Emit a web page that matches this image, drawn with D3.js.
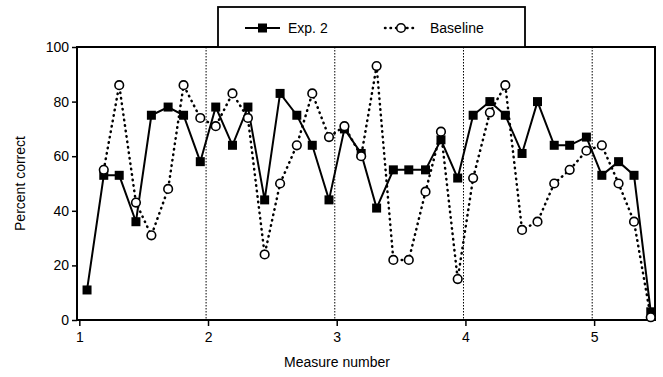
<!DOCTYPE html>
<html>
<head>
<meta charset="utf-8">
<script src="https://cdn.jsdelivr.net/npm/d3@7"></script>
<style>
  body { margin: 0; background: #fff; }
  svg { font-family: "Liberation Sans", Arial, sans-serif; }
</style>
</head>
<body>
<script>
// measure positions of each trial (8 per measure, last measure has 4)
var trialX = [1.06, 1.19, 1.31, 1.44, 1.56, 1.69, 1.81, 1.94,
              2.06, 2.19, 2.31, 2.44, 2.56, 2.69, 2.81, 2.94,
              3.06, 3.19, 3.31, 3.44, 3.56, 3.69, 3.81, 3.94,
              4.06, 4.19, 4.31, 4.44, 4.56, 4.69, 4.81, 4.94,
              5.06, 5.19, 5.31, 5.44];

var exp2 = [11, 53, 53, 36, 75, 78, 75, 58,
            78, 64, 78, 44, 83, 75, 64, 44,
            70, 61, 41, 55, 55, 55, 66, 52,
            75, 80, 75, 61, 80, 64, 64, 67,
            53, 58, 53, 3];

// baseline has no value for the first trial
var baseline = [null, 55, 86, 43, 31, 48, 86, 74,
                71, 83, 74, 24, 50, 64, 83, 67,
                71, 60, 93, 22, 22, 47, 69, 15,
                52, 76, 86, 33, 36, 50, 55, 62,
                64, 50, 36, 1];

var xTicks = [1, 2, 3, 4, 5];
var yTicks = [0, 20, 40, 60, 80, 100];
var dividers = [1.985, 2.985, 3.985, 4.985];

var width = 663;
var height = 377;
var padLeft = 77, padRight = 655, padTop = 47, padBottom = 320;

var svg = d3.select("body").append("svg")
  .attr("width", width)
  .attr("height", height);

var xScale = d3.scaleLinear()
  .domain([0.982, 5.473])
  .range([padLeft, padRight]);

var yScale = d3.scaleLinear()
  .domain([0, 100])
  .range([padBottom, padTop]);

// dotted measure dividers
svg.selectAll(".divider")
  .data(dividers)
  .enter()
  .append("line")
  .attr("class", "divider")
  .attr("x1", function(d) { return xScale(d); })
  .attr("x2", function(d) { return xScale(d); })
  .attr("y1", padTop)
  .attr("y2", padBottom)
  .attr("stroke", "#000")
  .attr("stroke-width", 1)
  .attr("stroke-dasharray", "1.5,1.5");

// axes
var xAxis = d3.axisBottom(xScale)
  .tickValues(xTicks)
  .tickFormat(d3.format("d"))
  .tickSize(6)
  .tickPadding(6);

var yAxis = d3.axisLeft(yScale)
  .tickValues(yTicks)
  .tickSize(5)
  .tickPadding(3);

var gx = svg.append("g")
  .attr("transform", `translate(0, ${padBottom})`)
  .call(xAxis);

var gy = svg.append("g")
  .attr("transform", `translate(${padLeft}, 0)`)
  .call(yAxis);

[gx, gy].forEach(function(g) {
  g.select(".domain").remove();
  g.selectAll(".tick line").attr("stroke", "#000").attr("stroke-width", 1.5);
  g.selectAll(".tick text")
    .attr("fill", "#000")
    .style("font-size", "14px");
});

// frame
svg.append("rect")
  .attr("x", padLeft)
  .attr("y", padTop)
  .attr("width", padRight - padLeft)
  .attr("height", padBottom - padTop)
  .attr("fill", "none")
  .attr("stroke", "#000")
  .attr("stroke-width", 2);

// baseline series
var basePts = trialX.map(function(x, i) { return {x: x, y: baseline[i]}; })
  .filter(function(d) { return d.y != null; });

var line = d3.line()
  .x(function(d) { return xScale(d.x); })
  .y(function(d) { return yScale(d.y); });

svg.append("path")
  .datum(basePts)
  .attr("d", line)
  .attr("fill", "none")
  .attr("stroke", "#000")
  .attr("stroke-width", 2.5)
  .attr("stroke-linecap", "round")
  .attr("stroke-dasharray", "0.5,5");

// exp 2 series
var expPts = trialX.map(function(x, i) { return {x: x, y: exp2[i]}; });

svg.append("path")
  .datum(expPts)
  .attr("d", line)
  .attr("fill", "none")
  .attr("stroke", "#000")
  .attr("stroke-width", 2);

svg.selectAll(".sq")
  .data(expPts)
  .enter()
  .append("rect")
  .attr("class", "sq")
  .attr("x", function(d) { return xScale(d.x) - 4.5; })
  .attr("y", function(d) { return yScale(d.y) - 4.5; })
  .attr("width", 9)
  .attr("height", 9)
  .attr("fill", "#000");

svg.selectAll(".circ")
  .data(basePts)
  .enter()
  .append("circle")
  .attr("class", "circ")
  .attr("cx", function(d) { return xScale(d.x); })
  .attr("cy", function(d) { return yScale(d.y); })
  .attr("r", 4.3)
  .attr("fill", "#fff")
  .attr("stroke", "#000")
  .attr("stroke-width", 1.6);

// axis titles
svg.append("text")
  .attr("x", 337)
  .attr("y", 367)
  .attr("text-anchor", "middle")
  .style("font-size", "14px")
  .text("Measure number");

svg.append("text")
  .attr("transform", `translate(25, ${(padTop + padBottom) / 2}) rotate(-90)`)
  .attr("text-anchor", "middle")
  .style("font-size", "14px")
  .text("Percent correct");

// legend
var legend = svg.append("g");

legend.append("rect")
  .attr("x", 218)
  .attr("y", 7)
  .attr("width", 307)
  .attr("height", 40)
  .attr("fill", "#fff")
  .attr("stroke", "#000")
  .attr("stroke-width", 1.8);

legend.append("line")
  .attr("x1", 245).attr("x2", 280)
  .attr("y1", 28).attr("y2", 28)
  .attr("stroke", "#000")
  .attr("stroke-width", 2);

legend.append("rect")
  .attr("x", 258).attr("y", 23.5)
  .attr("width", 9).attr("height", 9)
  .attr("fill", "#000");

legend.append("text")
  .attr("x", 288).attr("y", 33)
  .style("font-size", "14px")
  .text("Exp. 2");

legend.append("line")
  .attr("x1", 385).attr("x2", 418)
  .attr("y1", 28).attr("y2", 28)
  .attr("stroke", "#000")
  .attr("stroke-width", 2.5)
  .attr("stroke-linecap", "round")
  .attr("stroke-dasharray", "0.5,5");

legend.append("circle")
  .attr("cx", 401).attr("cy", 28)
  .attr("r", 4.3)
  .attr("fill", "#fff")
  .attr("stroke", "#000")
  .attr("stroke-width", 1.6);

legend.append("text")
  .attr("x", 430).attr("y", 33)
  .style("font-size", "14px")
  .text("Baseline");
</script>
</body>
</html>
